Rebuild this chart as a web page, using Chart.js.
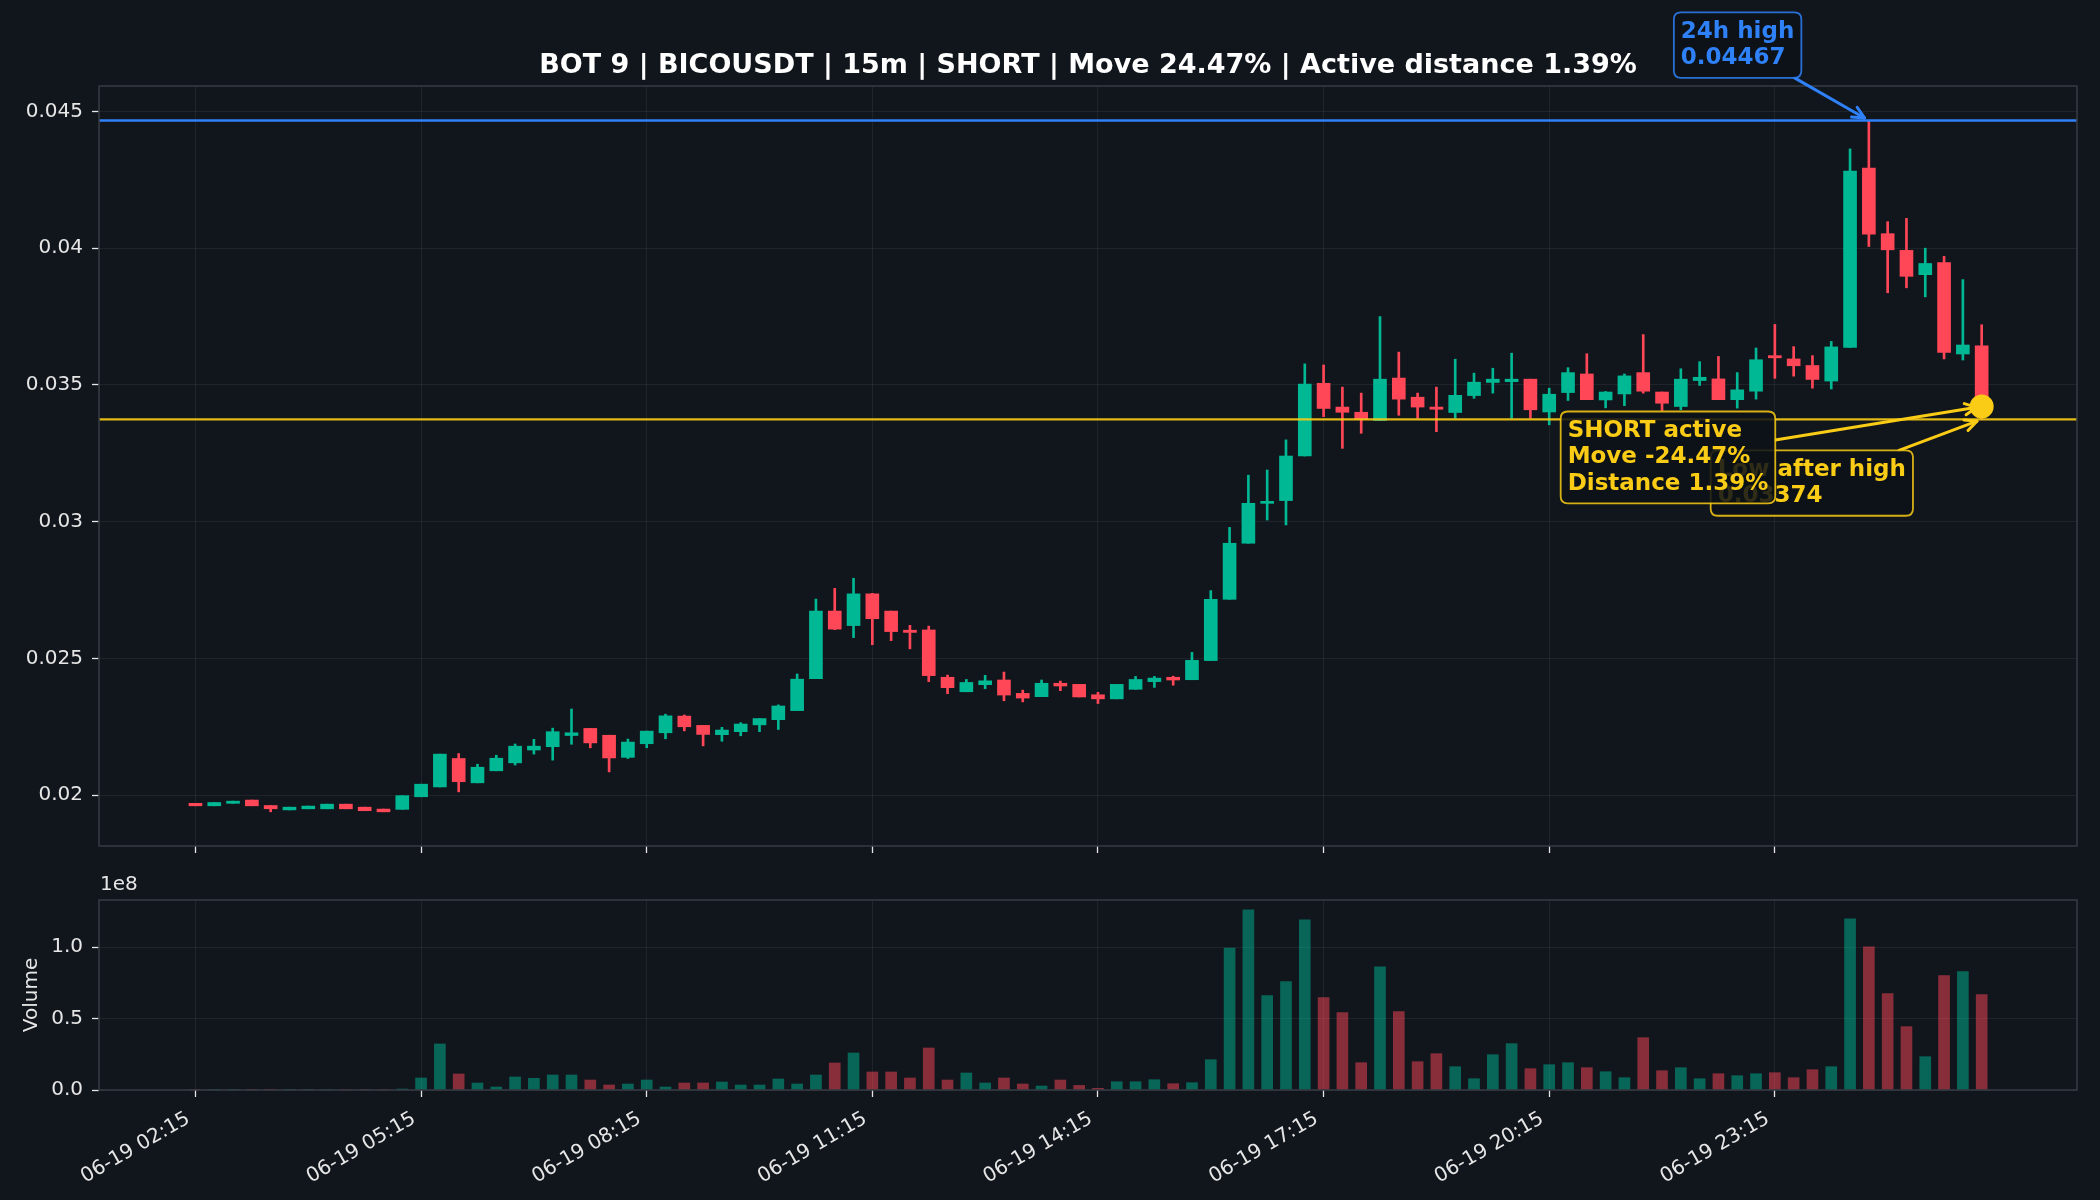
<!DOCTYPE html>
<html>
<head>
<meta charset="utf-8">
<script src="https://cdn.jsdelivr.net/npm/chart.js@4.4.0/dist/chart.umd.min.js"></script>
<style>
  html, body { margin: 0; padding: 0; background: #11151c; }
  #wrap { position: relative; width: 2100px; height: 1200px; background: #11151c; }
  canvas { position: absolute; left: 0; }
  #priceChart { top: 0; }
  #volChart { top: 870px; }
</style>
</head>
<body>
<div id="wrap">
  <canvas id="priceChart" width="2100" height="870"></canvas>
  <canvas id="volChart" width="2100" height="330"></canvas>
</div>
<script>
// --- данные свечей (15m, 96 штук) ---
const opens = [
  0.01970, 0.01961, 0.01970, 0.01982, 0.01962, 0.01946, 0.01950, 0.01950, 0.01967, 0.01956,
  0.01949, 0.01948, 0.01994, 0.02030, 0.02134, 0.02045, 0.02089, 0.02118, 0.02165, 0.02177,
  0.02218, 0.02244, 0.02219, 0.02138, 0.02188, 0.02228, 0.02289, 0.02255, 0.02221, 0.02232,
  0.02257, 0.02276, 0.02309, 0.02426, 0.02673, 0.02620, 0.02736, 0.02673, 0.02603, 0.02604,
  0.02431, 0.02378, 0.02404, 0.02421, 0.02372, 0.02360, 0.02409, 0.02405, 0.02367, 0.02352,
  0.02387, 0.02415, 0.02431, 0.02422, 0.02492, 0.02716, 0.02921, 0.03067, 0.03077, 0.03240,
  0.03506, 0.03419, 0.03400, 0.03370, 0.03525, 0.03455, 0.03419, 0.03399, 0.03461, 0.03509,
  0.03512, 0.03521, 0.03401, 0.03472, 0.03540, 0.03445, 0.03467, 0.03545, 0.03474, 0.03421,
  0.03516, 0.03522, 0.03446, 0.03477, 0.03607, 0.03595, 0.03571, 0.03514, 0.03637, 0.04293,
  0.04053, 0.03992, 0.03903, 0.03947, 0.03613, 0.03643
];
const highs = [
  0.01970, 0.01973, 0.01978, 0.01982, 0.01962, 0.01956, 0.01960, 0.01967, 0.01967, 0.01956,
  0.01949, 0.01998, 0.02040, 0.02150, 0.02152, 0.02113, 0.02146, 0.02187, 0.02204, 0.02245,
  0.02315, 0.02244, 0.02219, 0.02205, 0.02234, 0.02296, 0.02293, 0.02255, 0.02248, 0.02265,
  0.02280, 0.02330, 0.02443, 0.02717, 0.02756, 0.02793, 0.02738, 0.02673, 0.02621, 0.02618,
  0.02439, 0.02423, 0.02438, 0.02450, 0.02384, 0.02421, 0.02417, 0.02405, 0.02376, 0.02405,
  0.02434, 0.02434, 0.02435, 0.02522, 0.02748, 0.02979, 0.03170, 0.03189, 0.03299, 0.03577,
  0.03573, 0.03492, 0.03470, 0.03750, 0.03620, 0.03470, 0.03492, 0.03594, 0.03543, 0.03561,
  0.03616, 0.03521, 0.03488, 0.03563, 0.03614, 0.03476, 0.03540, 0.03684, 0.03474, 0.03559,
  0.03585, 0.03604, 0.03545, 0.03635, 0.03721, 0.03640, 0.03607, 0.03659, 0.04363, 0.04467,
  0.04097, 0.04109, 0.04000, 0.03970, 0.03885, 0.03720
];
const lows = [
  0.01961, 0.01961, 0.01970, 0.01961, 0.01939, 0.01946, 0.01950, 0.01950, 0.01950, 0.01943,
  0.01939, 0.01948, 0.01994, 0.02030, 0.02012, 0.02045, 0.02089, 0.02110, 0.02150, 0.02128,
  0.02186, 0.02173, 0.02085, 0.02134, 0.02173, 0.02206, 0.02235, 0.02180, 0.02197, 0.02217,
  0.02232, 0.02240, 0.02309, 0.02426, 0.02605, 0.02576, 0.02550, 0.02565, 0.02535, 0.02415,
  0.02371, 0.02378, 0.02389, 0.02345, 0.02341, 0.02360, 0.02382, 0.02359, 0.02335, 0.02352,
  0.02387, 0.02394, 0.02402, 0.02422, 0.02492, 0.02716, 0.02921, 0.03006, 0.02988, 0.03240,
  0.03384, 0.03268, 0.03323, 0.03370, 0.03389, 0.03378, 0.03329, 0.03378, 0.03451, 0.03470,
  0.03378, 0.03378, 0.03354, 0.03443, 0.03446, 0.03416, 0.03424, 0.03470, 0.03406, 0.03409,
  0.03498, 0.03446, 0.03415, 0.03448, 0.03524, 0.03532, 0.03488, 0.03485, 0.03637, 0.04006,
  0.03837, 0.03855, 0.03822, 0.03595, 0.03591, 0.03374
];
const closes = [
  0.01961, 0.01973, 0.01978, 0.01961, 0.01950, 0.01956, 0.01960, 0.01967, 0.01950, 0.01943,
  0.01939, 0.01998, 0.02040, 0.02150, 0.02049, 0.02102, 0.02135, 0.02179, 0.02179, 0.02232,
  0.02228, 0.02191, 0.02136, 0.02194, 0.02234, 0.02290, 0.02250, 0.02222, 0.02238, 0.02260,
  0.02280, 0.02326, 0.02424, 0.02673, 0.02607, 0.02736, 0.02645, 0.02598, 0.02595, 0.02437,
  0.02393, 0.02412, 0.02418, 0.02366, 0.02355, 0.02409, 0.02399, 0.02359, 0.02352, 0.02405,
  0.02423, 0.02428, 0.02421, 0.02493, 0.02716, 0.02921, 0.03067, 0.03074, 0.03240, 0.03503,
  0.03414, 0.03400, 0.03375, 0.03521, 0.03448, 0.03419, 0.03411, 0.03462, 0.03510, 0.03521,
  0.03521, 0.03409, 0.03466, 0.03545, 0.03446, 0.03474, 0.03533, 0.03477, 0.03433, 0.03521,
  0.03528, 0.03446, 0.03482, 0.03592, 0.03599, 0.03570, 0.03520, 0.03639, 0.04282, 0.04051,
  0.03994, 0.03897, 0.03944, 0.03619, 0.03646, 0.03421
];
const volumes = [
  400000, 300000, 250000, 450000, 500000, 250000, 300000, 350000, 350000, 400000,
  300000, 700000, 8400000, 32200000, 11200000, 4900000, 2100000, 9100000, 8200000, 10500000,
  10500000, 7000000, 3500000, 4200000, 7000000, 2100000, 4900000, 4900000, 5600000, 3500000,
  3500000, 7700000, 4200000, 10500000, 18900000, 25900000, 12600000, 12600000, 8400000, 29400000,
  7000000, 11900000, 4900000, 8400000, 4200000, 2800000, 7000000, 3200000, 1200000, 5800000,
  5800000, 7200000, 4400000, 5100000, 21200000, 99300000, 126100000, 66000000, 75800000, 119100000,
  64600000, 54100000, 19100000, 86200000, 54800000, 19800000, 25400000, 16300000, 7900000, 24700000,
  32400000, 14900000, 17700000, 19100000, 15600000, 12800000, 8600000, 36600000, 13500000, 15600000,
  7900000, 11400000, 10000000, 11400000, 12100000, 8600000, 14200000, 16300000, 119800000, 100200000,
  67400000, 44300000, 23300000, 80000000, 82800000, 66700000
];

// подписи оси времени (каждые 3 часа = 12 свечей)
const tickIndex = [0, 12, 24, 36, 48, 60, 72, 84];
const tickLabels = ['06-19 02:15', '06-19 05:15', '06-19 08:15', '06-19 11:15',
                    '06-19 14:15', '06-19 17:15', '06-19 20:15', '06-19 23:15'];
const priceTicks = [0.02, 0.025, 0.03, 0.035, 0.04, 0.045];
const volumeTicks = [0, 50000000, 100000000];

// уровни сигнала
const high24 = 0.04467;
const high24Index = 89;
const lowAfterHigh = 0.03374;
const lastIndex = 95;
const lastPrice = 0.03421;
const movePct = 24.47;
const distancePct = 1.39;

// --- стиль ---
const UP = '#00b894';
const DOWN = '#ff4757';
const UP_VOL = 'rgba(0, 184, 148, 0.5)';
const DOWN_VOL = 'rgba(255, 71, 87, 0.5)';
const BLUE = '#2f81f7';
const YELLOW = '#facc15';
const GRID = 'rgba(139, 148, 158, 0.12)';
const SPINE = '#363b44';
const TEXT = '#e6e6e6';
const FONT = "'DejaVu Sans', sans-serif";

const X_MIN = -5.13, X_MAX = 100.07;

Chart.defaults.font.family = FONT;
Chart.defaults.color = TEXT;

const isUp = opens.map((o, i) => closes[i] >= o);

function xScale(showLabels, height) {
  return {
    type: 'linear',
    min: X_MIN,
    max: X_MAX,
    offset: false,
    afterBuildTicks: s => { s.ticks = tickIndex.map(v => ({ value: v })); },
    afterFit: s => { s.height = height; },
    grid: { offset: false, color: GRID, lineWidth: 1, tickColor: TEXT, tickLength: 7, tickWidth: 1.3 },
    border: { display: false },
    ticks: {
      display: showLabels,
      autoSkip: false,
      minRotation: 30,
      maxRotation: 30,
      padding: 10,
      labelOffset: -7,
      font: { size: 20 },
      color: TEXT,
      callback: v => {
        const k = tickIndex.indexOf(v);
        return k >= 0 ? tickLabels[k] : '';
      }
    }
  };
}

function yScale(min, max, ticks, fmt) {
  return {
    type: 'linear',
    min: min,
    max: max,
    afterBuildTicks: s => { s.ticks = ticks.map(v => ({ value: v })); },
    afterFit: s => { s.width = 99; },
    grid: { color: GRID, lineWidth: 1, tickColor: TEXT, tickLength: 7, tickWidth: 1.3 },
    border: { display: false },
    ticks: { padding: 9, font: { size: 20 }, color: TEXT, callback: fmt }
  };
}

// --- аннотации ---
function roundRect(ctx, x, y, w, h, r) {
  ctx.beginPath();
  ctx.moveTo(x + r, y);
  ctx.lineTo(x + w - r, y);
  ctx.quadraticCurveTo(x + w, y, x + w, y + r);
  ctx.lineTo(x + w, y + h - r);
  ctx.quadraticCurveTo(x + w, y + h, x + w - r, y + h);
  ctx.lineTo(x + r, y + h);
  ctx.quadraticCurveTo(x, y + h, x, y + h - r);
  ctx.lineTo(x, y + r);
  ctx.quadraticCurveTo(x, y, x + r, y);
  ctx.closePath();
}

function drawArrow(ctx, x0, y0, x1, y1, color) {
  const ang = Math.atan2(y1 - y0, x1 - x0);
  const shrink = 5;
  x1 -= shrink * Math.cos(ang);
  y1 -= shrink * Math.sin(ang);
  ctx.strokeStyle = color;
  ctx.lineWidth = 3;
  ctx.lineCap = 'round';
  ctx.lineJoin = 'round';
  ctx.beginPath();
  ctx.moveTo(x0, y0);
  ctx.lineTo(x1, y1);
  ctx.stroke();
  const hl = 13, ha = 0.45;
  ctx.beginPath();
  ctx.moveTo(x1 - hl * Math.cos(ang - ha), y1 - hl * Math.sin(ang - ha));
  ctx.lineTo(x1, y1);
  ctx.lineTo(x1 - hl * Math.cos(ang + ha), y1 - hl * Math.sin(ang + ha));
  ctx.stroke();
}

function drawNote(ctx, lines, color, bx, by, target) {
  const pad = 7, lh = 26.4, fs = 23;
  ctx.font = 'bold ' + fs + 'px ' + FONT;
  const tw = Math.max(...lines.map(l => ctx.measureText(l).width));
  const w = tw + pad * 2;
  const h = (lines.length - 1) * lh + 25 + pad * 2;

  // стрелка от края рамки к точке
  const cx = bx + w / 2, cy = by + h / 2;
  const dx = target.x - cx, dy = target.y - cy;
  const tx = dx > 0 ? (bx + w - cx) / dx : dx < 0 ? (bx - cx) / dx : Infinity;
  const ty = dy > 0 ? (by + h - cy) / dy : dy < 0 ? (by - cy) / dy : Infinity;
  const s = Math.min(tx, ty);
  drawArrow(ctx, cx + dx * s, cy + dy * s, target.x, target.y, color);

  roundRect(ctx, bx, by, w, h, 7);
  ctx.fillStyle = 'rgba(13, 17, 23, 0.86)';
  ctx.fill();
  ctx.globalAlpha = 0.85;
  ctx.strokeStyle = color;
  ctx.lineWidth = 1.8;
  ctx.stroke();
  ctx.globalAlpha = 1;

  ctx.fillStyle = color;
  ctx.font = 'bold ' + fs + 'px ' + FONT;
  ctx.textAlign = 'left';
  ctx.textBaseline = 'middle';
  lines.forEach((l, k) => ctx.fillText(l, bx + pad, by + pad + 12.5 + k * lh));
}

const priceDecor = {
  id: 'priceDecor',
  afterDraw(chart) {
    const { ctx, chartArea: a, scales: { x, y } } = chart;
    ctx.save();
    ctx.strokeStyle = SPINE;
    ctx.lineWidth = 1.5;
    ctx.strokeRect(a.left, a.top, a.right - a.left, a.bottom - a.top);

    // заголовок
    ctx.fillStyle = '#ffffff';
    ctx.font = 'bold 27px ' + FONT;
    ctx.textAlign = 'center';
    ctx.textBaseline = 'middle';
    ctx.fillText(`BOT 9 | BICOUSDT | 15m | SHORT | Move ${movePct.toFixed(2)}% | Active distance ${distancePct.toFixed(2)}%`,
      (a.left + a.right) / 2, 66);

    const highPt = { x: x.getPixelForValue(high24Index), y: y.getPixelForValue(high24) };
    const lowPt = { x: x.getPixelForValue(lastIndex), y: y.getPixelForValue(lowAfterHigh) };
    const dotPt = { x: x.getPixelForValue(lastIndex), y: y.getPixelForValue(lastPrice) };

    drawNote(ctx, ['Low after high', lowAfterHigh.toFixed(5)], YELLOW, lowPt.x - 271, lowPt.y + 31, lowPt);
    drawNote(ctx, ['SHORT active', `Move -${movePct.toFixed(2)}%`, `Distance ${distancePct.toFixed(2)}%`],
      YELLOW, dotPt.x - 421, dotPt.y + 5, dotPt);
    drawNote(ctx, ['24h high', high24.toFixed(5)], BLUE, highPt.x - 195, highPt.y - 108, highPt);
    ctx.restore();
  }
};

const volDecor = {
  id: 'volDecor',
  afterDraw(chart) {
    const { ctx, chartArea: a } = chart;
    ctx.save();
    ctx.strokeStyle = SPINE;
    ctx.lineWidth = 1.5;
    ctx.strokeRect(a.left, a.top, a.right - a.left, a.bottom - a.top);
    ctx.fillStyle = TEXT;
    ctx.font = '20px ' + FONT;
    ctx.textAlign = 'left';
    ctx.textBaseline = 'middle';
    ctx.fillText('1e8', a.left + 1, a.top - 15);
    ctx.translate(32, (a.top + a.bottom) / 2);
    ctx.rotate(-Math.PI / 2);
    ctx.textAlign = 'center';
    ctx.fillText('Volume', 0, 0);
    ctx.restore();
  }
};

// --- график цены ---
new Chart(document.getElementById('priceChart'), {
  type: 'bar',
  data: {
    datasets: [
      {
        type: 'scatter',
        data: [{ x: lastIndex, y: lastPrice }],
        pointRadius: 12,
        pointBackgroundColor: YELLOW,
        pointBorderWidth: 0,
        order: 0
      },
      {
        type: 'line',
        data: [{ x: X_MIN, y: high24 }, { x: X_MAX, y: high24 }],
        borderColor: BLUE,
        borderWidth: 2.5,
        pointRadius: 0,
        order: 1
      },
      {
        type: 'line',
        data: [{ x: X_MIN, y: lowAfterHigh }, { x: X_MAX, y: lowAfterHigh }],
        borderColor: 'rgba(250, 204, 21, 0.9)',
        borderWidth: 2.2,
        pointRadius: 0,
        order: 1
      },
      {
        data: opens.map((o, i) => ({ x: i, y: [o, closes[i]] })),
        backgroundColor: isUp.map(u => u ? UP : DOWN),
        barThickness: 13,
        minBarLength: 2,
        grouped: false,
        borderWidth: 0,
        order: 2
      },
      {
        data: lows.map((l, i) => ({ x: i, y: [l, highs[i]] })),
        backgroundColor: isUp.map(u => u ? UP : DOWN),
        barThickness: 2,
        grouped: false,
        borderWidth: 0,
        order: 3
      }
    ]
  },
  options: {
    responsive: false,
    animation: false,
    events: [],
    layout: { padding: { top: 86, right: 23, left: 0, bottom: 0 } },
    plugins: { legend: { display: false }, tooltip: { enabled: false }, title: { display: false } },
    scales: {
      x: xScale(false, 24),
      y: yScale(0.01814, 0.04593, priceTicks, v => String(+v.toFixed(4)))
    }
  },
  plugins: [priceDecor]
});

// --- объём ---
new Chart(document.getElementById('volChart'), {
  type: 'bar',
  data: {
    datasets: [{
      data: volumes.map((v, i) => ({ x: i, y: v })),
      backgroundColor: isUp.map(u => u ? UP_VOL : DOWN_VOL),
      barThickness: 11,
      grouped: false,
      borderWidth: 0
    }]
  },
  options: {
    responsive: false,
    animation: false,
    events: [],
    layout: { padding: { top: 30, right: 23, left: 0, bottom: 0 } },
    plugins: { legend: { display: false }, tooltip: { enabled: false } },
    scales: {
      x: xScale(true, 110),
      y: yScale(0, 132900000, volumeTicks, v => (v / 1e8).toFixed(1))
    }
  },
  plugins: [volDecor]
});
</script>
</body>
</html>
